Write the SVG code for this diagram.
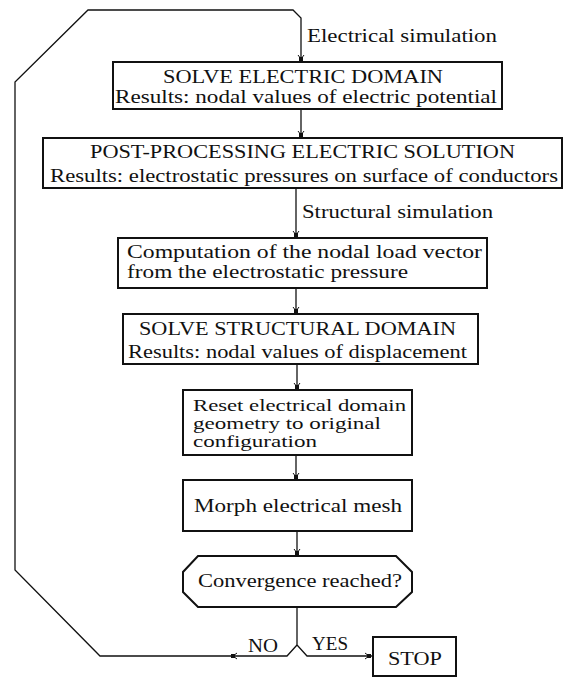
<svg xmlns="http://www.w3.org/2000/svg" width="564" height="677" viewBox="0 0 564 677">
<style>
.box{fill:#fff;stroke:#111;stroke-width:2}
.ln{fill:none;stroke:#111;stroke-width:1.3}
text{font-family:"Liberation Serif","Times New Roman","DejaVu Serif",serif;font-size:19px;fill:#111}
.sm{font-size:16px}
</style>
<defs>
<marker id="ah" viewBox="-10 -5 12 10" refX="0" refY="0" markerWidth="12" markerHeight="10" markerUnits="userSpaceOnUse" orient="auto">
<rect x="-5" y="-2" width="4" height="4" fill="#111"/>
<path d="M-3 0 L-7 -3 M-3 0 L-7 3" stroke="#111" stroke-width="1" fill="none"/>
</marker>
</defs>
<rect width="564" height="677" fill="#fff"/>
<g id="connectors">
<path class="ln" d="M297 645 L287 656 L230 656" marker-end="url(#ah)"/>
<path class="ln" d="M230 656 L100 656 L15 570 L15 82 L88 10 L293 10 L301 18 L301 62" marker-end="url(#ah)"/>
<path class="ln" d="M301 109 L301 138" marker-end="url(#ah)"/>
<path class="ln" d="M296 188 L296 238" marker-end="url(#ah)"/>
<path class="ln" d="M296 288 L296 314" marker-end="url(#ah)"/>
<path class="ln" d="M297 364 L297 390" marker-end="url(#ah)"/>
<path class="ln" d="M296 455 L296 480" marker-end="url(#ah)"/>
<path class="ln" d="M297 531 L297 556" marker-end="url(#ah)"/>
<path class="ln" d="M297 607 L297 645 L307 656 L372 656" marker-end="url(#ah)"/>
<text x="307" y="42" textLength="190" lengthAdjust="spacingAndGlyphs">Electrical simulation</text>
<text x="302" y="218" textLength="191" lengthAdjust="spacingAndGlyphs">Structural simulation</text>
<text x="248" y="652" textLength="30" lengthAdjust="spacingAndGlyphs">NO</text>
<text x="312" y="650" textLength="36" lengthAdjust="spacingAndGlyphs">YES</text>
</g>
<g id="solve-electric">
<rect class="box" x="113" y="62" width="389" height="47"/>
<text x="163" y="83" textLength="280" lengthAdjust="spacingAndGlyphs">SOLVE ELECTRIC DOMAIN</text>
<text x="115" y="103" textLength="382" lengthAdjust="spacingAndGlyphs">Results: nodal values of electric potential</text>
</g>
<g id="post-processing">
<rect class="box" x="43" y="138" width="519" height="50"/>
<text x="90" y="158" textLength="425" lengthAdjust="spacingAndGlyphs">POST-PROCESSING ELECTRIC SOLUTION</text>
<text x="50" y="182" textLength="508" lengthAdjust="spacingAndGlyphs">Results: electrostatic pressures on surface of conductors</text>
</g>
<g id="load-vector">
<rect class="box" x="118" y="238" width="369" height="50"/>
<text x="127" y="258" textLength="355" lengthAdjust="spacingAndGlyphs">Computation of the nodal load vector</text>
<text x="127" y="278" textLength="281" lengthAdjust="spacingAndGlyphs">from the electrostatic pressure</text>
</g>
<g id="solve-structural">
<rect class="box" x="123" y="314" width="355" height="50"/>
<text x="139" y="335" textLength="317" lengthAdjust="spacingAndGlyphs">SOLVE STRUCTURAL DOMAIN</text>
<text x="128" y="358" textLength="339" lengthAdjust="spacingAndGlyphs">Results: nodal values of displacement</text>
</g>
<g id="reset">
<rect class="box" x="183" y="390" width="229" height="65"/>
<text class="sm" x="193" y="411" textLength="213" lengthAdjust="spacingAndGlyphs">Reset electrical domain</text>
<text class="sm" x="193" y="429" textLength="188" lengthAdjust="spacingAndGlyphs">geometry to original</text>
<text class="sm" x="193" y="447" textLength="124" lengthAdjust="spacingAndGlyphs">configuration</text>
</g>
<g id="morph">
<rect class="box" x="183" y="480" width="229" height="51"/>
<text x="194" y="512" textLength="208" lengthAdjust="spacingAndGlyphs">Morph electrical mesh</text>
</g>
<g id="convergence">
<path class="box" d="M198 556 L396 556 L412 572 L412 592 L396 607 L198 607 L183 592 L183 572 Z"/>
<text x="198" y="587" textLength="204" lengthAdjust="spacingAndGlyphs">Convergence reached?</text>
</g>
<g id="stop">
<rect class="box" x="373" y="637" width="83" height="39"/>
<text x="388" y="665" textLength="54" lengthAdjust="spacingAndGlyphs">STOP</text>
</g>
</svg>
